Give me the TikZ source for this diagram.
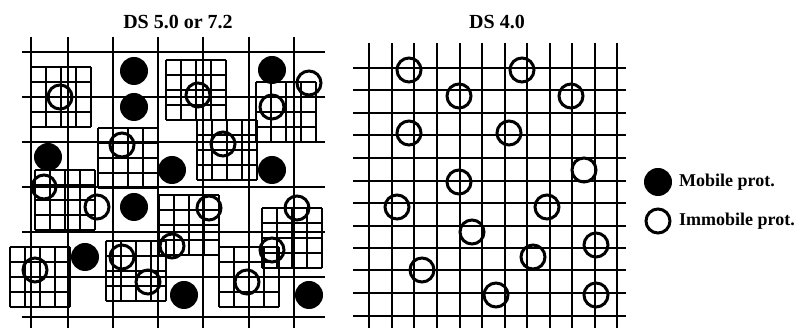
\documentclass[tikz,border=0pt]{standalone}
\usepackage{fontspec}
\setmainfont{Liberation Serif}
\usepackage{tikz}
\usetikzlibrary{positioning}
\definecolor{protInk}{HTML}{000000}
\tikzset{
  malla/.style={draw=protInk, line width=1.6pt},
  submalla/.style={draw=protInk, line width=1.1pt, step=15},
  protmov/.style={fill=protInk},
  protfija/.style={draw=protInk, line width=3pt},
  titulo/.style={font=\fontsize{20}{24}\selectfont\bfseries, inner sep=0pt},
  leyenda/.style={font=\fontsize{18}{22}\selectfont\bfseries, inner sep=0pt, anchor=west},
}
% cuadro de 4x4 celdas, esquina inferior izquierda
\newcommand{\cuadro}[2]{\draw[submalla, shift={(#1,#2)}] (0,0) grid (60,60);}

\begin{document}
\begin{tikzpicture}[x=1pt, y=1pt]
\useasboundingbox (0,0) rectangle (801,328);

% DS 5.0 or 7.2
\node[titulo] (titleL) at (178,306) {DS 5.0 or 7.2};
\foreach \gx in {31,68,113,158,203,249,294} \draw[malla] (\gx,291) -- (\gx,0);
\foreach \gy in {276,231,186,141,96,51,11} \draw[malla] (22,\gy) -- (325,\gy);
\cuadro{31}{201}  \cuadro{166}{208} \cuadro{256}{186} \cuadro{197}{148}
\cuadro{98}{140}  \cuadro{35}{98}   \cuadro{159}{73}  \cuadro{262}{60}
\cuadro{10}{21}   \cuadro{106}{27}  \cuadro{219}{21}
\foreach \cx/\cy in {60/231,198/233,272/221,309/245,122/183,223/184,44/141,97/121,
  209/120,172/82,297/120,272/78,35/58,122/71,148/46,247/46}
  \draw[protfija] (\cx,\cy) circle[radius=12];
\foreach \cx/\cy in {134/257,134/221,272/258,48/171,172/158,272/158,134/121,85/71,
  184/33,309/33}
  \fill[protmov] (\cx,\cy) circle[radius=14];

% DS 4.0
\node[titulo] (titleR) at (497,306) {DS 4.0};
\foreach \gx in {369,392,414,437,460,482,505,527,550,572,595,617}
  \draw[malla] (\gx,285) -- (\gx,0);
\foreach \gy in {260,238,215,193,170,147,125,102,80,58,35,12}
  \draw[malla] (353,\gy) -- (626,\gy);
\foreach \cx/\cy in {409/258,522/258,459/232,571/232,409/195,509/195,584/158,459/146,
  397/121,547/121,472/96,596/83,533/71,422/58,496/33,596/33}
  \draw[protfija] (\cx,\cy) circle[radius=12];

% Leyenda
\fill[protmov] (658,146) circle[radius=14];
\draw[protfija] (658,107) circle[radius=12];
\node[leyenda] (legMov) at (679,146) {Mobile prot.};
\node[leyenda] (legFija) at (679,107) {Immobile prot.};
\end{tikzpicture}
\end{document}
